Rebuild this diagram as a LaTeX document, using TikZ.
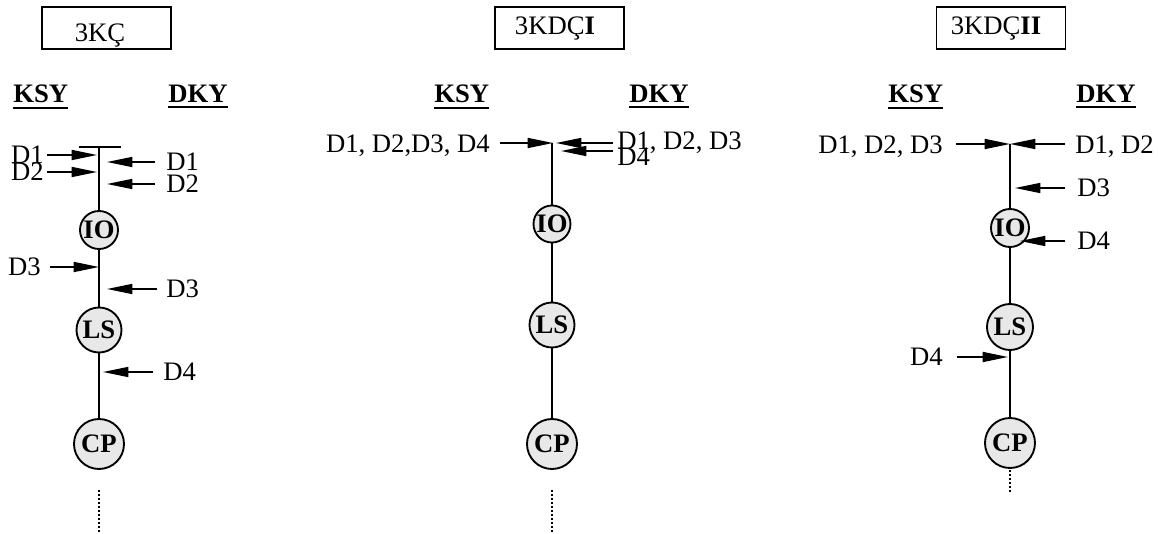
\documentclass[tikz,border=0pt]{standalone}
\usepackage{fontspec}
\setmainfont{Liberation Serif}
\usetikzlibrary{arrows.meta}
\begin{document}
\begin{tikzpicture}[x=0.75pt,y=-0.75pt,
 lbl/.style={inner sep=0pt,font=\fontsize{20}{24}\selectfont},
 hdr/.style={inner sep=0pt,font=\fontsize{20}{24}\selectfont\bfseries},
 titlebox/.style={draw,line width=0.8pt,minimum width=96.75pt,minimum height=31.5pt,inner sep=0pt},
 stn/.style={circle,draw,line width=1.4pt,fill=black!9,inner sep=0pt,font=\fontsize{20}{24}\selectfont\bfseries},
 arr/.style={line width=1.2pt,-{Triangle[length=19pt,width=7.5pt]}},
 trunk/.style={line width=1.8pt},
 uline/.style={line width=1.5pt},
 dots/.style={line width=1.7pt,dash pattern=on 1.5pt off 1.5pt}]
\useasboundingbox (0,0) rectangle (1158,534);

% ---------- titles ----------
\node[titlebox] (b1) at (106.5,28) {};
\node[lbl,anchor=base] (t1) at (100,42) {3KÇ};
\node[titlebox] (b2) at (559.5,28) {};
\node[lbl,anchor=base] (t2) at (555,35) {3KDÇ\textbf{I}};
\node[titlebox] (b3) at (1001,28) {};
\node[lbl,anchor=base] (t3) at (996,35) {3KDÇ\textbf{II}};

% ---------- headers ----------
\foreach \n/\x/\t in {k1/13/KSY,d1/168/DKY,k2/434/KSY,d2/629/DKY,k3/888/KSY,d3/1076/DKY}{
  \node[hdr,anchor=base west] (\n) at (\x,103) {\t};
  \draw[uline] ([yshift=-3pt]\n.south west) -- ([yshift=-3pt]\n.south east);
}

% ========== panel 1 ==========
\coordinate (bar1l) at (79,147);
\coordinate (bar1r) at (121,147);
\coordinate (top1) at (99,147);
\node[stn,minimum size=28.5pt] (io1) at (99,230) {IO};
\node[stn,minimum size=33.75pt] (ls1) at (99,330) {LS};
\node[stn,minimum size=37.5pt] (cp1) at (99,444) {CP};
\draw[trunk] (bar1l) -- (bar1r);
\draw[trunk] (top1) -- (io1);
\draw[trunk] (io1) -- (ls1);
\draw[trunk] (ls1) -- (cp1);
\coordinate (p1da) at (99,490);
\coordinate (p1db) at (99,532);
\draw[dots] (p1da) -- (p1db);

\node[lbl,anchor=east] (p1l1) at (44,155) {D1};
\coordinate (p1l1a) at (47,155); \coordinate (p1l1b) at (97,155);
\draw[arr] (p1l1a) -- (p1l1b);
\node[lbl,anchor=east] (p1l2) at (44,172) {D2};
\coordinate (p1l2a) at (47,172); \coordinate (p1l2b) at (97,172);
\draw[arr] (p1l2a) -- (p1l2b);
\node[lbl,anchor=west] (p1r1) at (166,162) {D1};
\coordinate (p1r1a) at (155,162); \coordinate (p1r1b) at (107,162);
\draw[arr] (p1r1a) -- (p1r1b);
\node[lbl,anchor=west] (p1r2) at (166,184) {D2};
\coordinate (p1r2a) at (155,184); \coordinate (p1r2b) at (107,184);
\draw[arr] (p1r2a) -- (p1r2b);
\node[lbl,anchor=east] (p1l3) at (41,267) {D3};
\coordinate (p1l3a) at (50,267); \coordinate (p1l3b) at (99,267);
\draw[arr] (p1l3a) -- (p1l3b);
\node[lbl,anchor=west] (p1r3) at (166,289) {D3};
\coordinate (p1r3a) at (157,289); \coordinate (p1r3b) at (107,289);
\draw[arr] (p1r3a) -- (p1r3b);
\node[lbl,anchor=west] (p1r4) at (163,372) {D4};
\coordinate (p1r4a) at (153,372); \coordinate (p1r4b) at (103,372);
\draw[arr] (p1r4a) -- (p1r4b);

% ========== panel 2 ==========
\coordinate (top2) at (552,143);
\node[stn,minimum size=27.75pt] (io2) at (552,224) {IO};
\node[stn,minimum size=33.75pt] (ls2) at (552,325) {LS};
\node[stn,minimum size=37.5pt] (cp2) at (552,444) {CP};
\draw[trunk] (top2) -- (io2);
\draw[trunk] (io2) -- (ls2);
\draw[trunk] (ls2) -- (cp2);
\coordinate (p2da) at (552,490);
\coordinate (p2db) at (552,532);
\draw[dots] (p2da) -- (p2db);

\node[lbl,anchor=base east] (p2l) at (490,153) {D1, D2,D3, D4};
\coordinate (p2la) at (500,143); \coordinate (p2lb) at (553,143);
\draw[arr] (p2la) -- (p2lb);
\coordinate (p2ra) at (613,143); \coordinate (p2rb) at (556,143);
\draw[arr] (p2ra) -- (p2rb);
\coordinate (p2sa) at (613,151); \coordinate (p2sb) at (561,151);
\draw[arr] (p2sa) -- (p2sb);
\node[lbl,anchor=base west] (p2r) at (617,150) {D1, D2, D3};
\node[lbl,anchor=base west] (p2s) at (617,166) {D4};

% ========== panel 3 ==========
\coordinate (top3) at (1010,144);
\node[stn,minimum size=28.5pt] (io3) at (1010,228) {IO};
\node[stn,minimum size=34.5pt] (ls3) at (1010,327) {LS};
\node[stn,minimum size=37.5pt] (cp3) at (1010,443) {CP};
\draw[trunk] (top3) -- (io3);
\draw[trunk] (io3) -- (ls3);
\draw[trunk] (ls3) -- (cp3);
\coordinate (p3da) at (1010,470);
\coordinate (p3db) at (1010,493);
\draw[dots] (p3da) -- (p3db);

\node[lbl,anchor=base east] (p3l) at (943,154) {D1, D2, D3};
\coordinate (p3la) at (956,144); \coordinate (p3lb) at (1010,144);
\draw[arr] (p3la) -- (p3lb);
\node[lbl,anchor=base west] (p3r) at (1075,154) {D1, D2};
\coordinate (p3ra) at (1065,144); \coordinate (p3rb) at (1010,144);
\draw[arr] (p3ra) -- (p3rb);
\node[lbl,anchor=west] (p3r3) at (1077,188) {D3};
\coordinate (p3r3a) at (1065,188); \coordinate (p3r3b) at (1015,188);
\draw[arr] (p3r3a) -- (p3r3b);
\node[lbl,anchor=west] (p3r4) at (1077,241) {D4};
\coordinate (p3r4a) at (1065,241); \coordinate (p3r4b) at (1020,241);
\draw[arr] (p3r4a) -- (p3r4b);
\node[lbl,anchor=east] (p3l4) at (943,357) {D4};
\coordinate (p3l4a) at (957,357); \coordinate (p3l4b) at (1008,357);
\draw[arr] (p3l4a) -- (p3l4b);
\end{tikzpicture}
\end{document}
